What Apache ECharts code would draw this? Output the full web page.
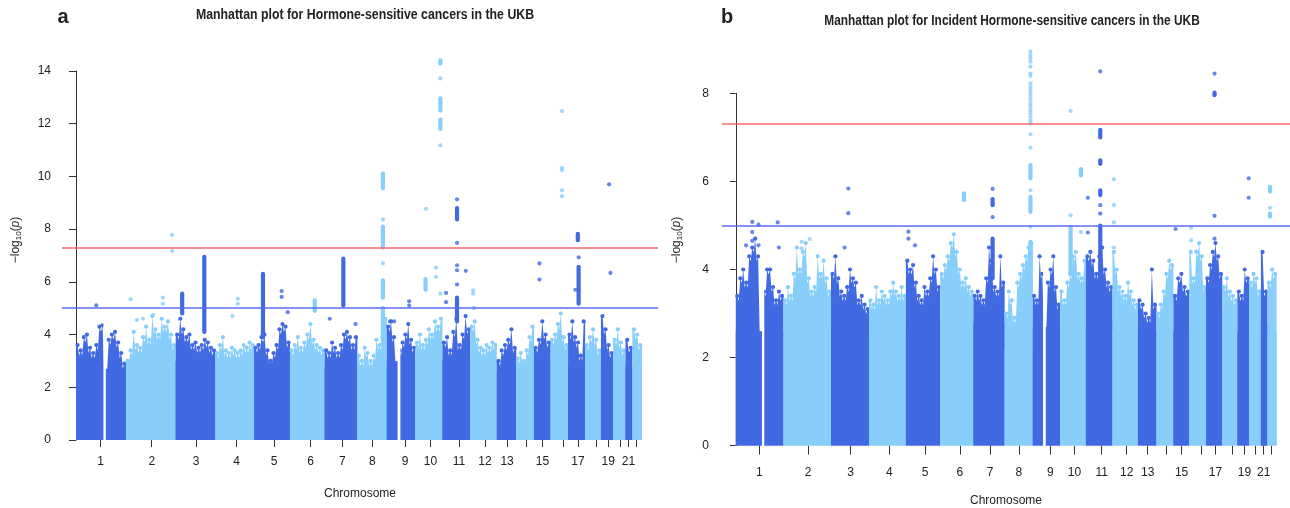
<!DOCTYPE html>
<html>
<head>
<meta charset="utf-8">
<script src="https://cdn.jsdelivr.net/npm/echarts@6/dist/echarts.min.js"></script>
<style>
  html, body { margin: 0; padding: 0; background: #ffffff; }
  #chart { width: 1290px; height: 508px; }
</style>
</head>
<body>
<div id="chart"></div>
<script>
// ---- chromosome layout (cumulative genomic position, Mb) ----
const chromosomes = ['1','2','3','4','5','6','7','8','9','10','11','12','13','14','15','16','17','18','19','20','21','22'];
const chrEnd  = [246, 491, 687, 877, 1054, 1225, 1386, 1531, 1672, 1805, 1942, 2073, 2169, 2256, 2338, 2424, 2508, 2586, 2646, 2707, 2741, 2788];
const chrTick = [121.5, 373, 591.5, 791, 976, 1155, 1311.5, 1459.5, 1621, 1746, 1886.5, 2015, 2123.5, 2217.5, 2298, 2399.5, 2472.5, 2560.5, 2622, 2680, 2721.5, 2758];
const labelledChr = ['1','2','3','4','5','6','7','8','9','10','11','12','13','15','17','19','21'];
// centromeric stretches without genotyped SNPs
const gaps = [[135, 147], [1584, 1598]];

const GENOME_WIDE = 7.3;
const SUGGESTIVE = 5;

// ---- panel a: Hormone-sensitive cancers ----
// level below which SNPs form a solid band, per chromosome
const bandA = [2.7, 3.0, 3.0, 3.0, 2.9, 3.0, 2.7, 2.8, 3.0, 3.0, 3.0, 3.0, 2.6, 2.9, 3.0, 3.0, 2.9, 3.0, 2.9, 3.0, 2.8, 2.7];
// highest SNP in successive windows along each chromosome
const envelopeA = [
  [3.6, 3.4, 3.9, 4.0, 3.5, 3.3, 3.6, 4.3, 4.35, 2.5, 3.8, 4.0, 4.1, 3.7, 3.3, 2.9],
  [3.0, 3.4, 4.1, 3.6, 3.5, 3.9, 4.3, 3.8, 4.7, 4.2, 4.0, 4.6, 4.3, 4.5, 4.0, 3.6],
  [4.0, 4.6, 4.2, 3.9, 4.0, 3.6, 3.7, 3.5, 3.6, 3.8, 3.7, 3.5, 3.4],
  [3.3, 3.6, 3.9, 3.4, 3.3, 3.5, 3.4, 3.3, 3.4, 3.6, 3.5, 3.7, 3.6],
  [3.5, 3.6, 3.9, 4.0, 3.4, 3.0, 3.3, 3.6, 4.2, 4.4, 4.3, 3.7],
  [3.4, 3.6, 3.9, 3.5, 3.7, 4.0, 4.4, 3.8, 3.6, 3.5, 3.4],
  [3.4, 3.3, 3.7, 3.5, 3.3, 3.6, 4.0, 4.1, 3.9, 3.6, 3.9],
  [3.2, 3.0, 3.5, 3.3, 3.0, 3.2, 3.8, 3.6, 3.9, 4.6],
  [4.3, 4.5, 3.9, 2.0, 3.4, 3.7, 4.0, 4.4, 3.8, 3.5],
  [3.7, 4.0, 3.6, 3.8, 4.2, 4.0, 4.5, 4.3, 4.6],
  [3.7, 3.9, 3.4, 4.1, 4.6, 3.6, 4.0, 4.7, 4.2],
  [4.3, 4.5, 3.8, 3.5, 3.4, 3.6, 3.5, 3.7, 3.6],
  [3.0, 3.4, 3.6, 3.8, 4.2, 3.5],
  [3.1, 3.3, 3.0, 3.4, 3.9, 4.3],
  [3.5, 3.8, 4.5, 4.0, 3.7],
  [3.8, 4.0, 4.4, 4.8, 3.9, 3.6],
  [4.0, 4.5, 3.9, 3.7, 3.2, 4.5],
  [3.6, 3.9, 4.2, 3.8, 3.4],
  [4.7, 4.2, 3.6, 3.3],
  [3.8, 4.2, 3.7, 3.4],
  [3.8, 3.5],
  [4.2, 4.0, 3.6]
];
// runs of adjacent SNPs in one locus: [position, lowest, highest]
const locusRunsA = [
  [523, 4.8, 5.55], [632, 4.1, 6.95], [921, 3.9, 6.3], [1176, 4.9, 5.3], [1317, 5.1, 6.88],
  [1512, 9.55, 10.11], [1512, 7.3, 8.1], [1512, 5.4, 6.06], [1512, 3.6, 5.0],
  [1722, 5.7, 6.1], [1795, 14.28, 14.4], [1795, 12.5, 12.96], [1795, 11.8, 12.16],
  [1877, 8.37, 8.8], [1877, 4.5, 5.4], [2472, 7.58, 7.82], [2476, 5.17, 6.57]
];
// single SNPs above the band: [position, -log10(p)]
const snpsA = [
  [100, 5.11], [269, 5.34], [300, 4.55], [330, 4.6], [380, 4.75], [428, 5.4], [428, 5.17],
  [473, 7.78], [474, 7.17], [771, 4.7], [797, 5.36], [797, 5.17], [1013, 5.65], [1013, 5.43],
  [1043, 4.85], [1250, 4.6], [1377, 4.4], [1512, 8.37], [1512, 6.7], [1547, 4.5], [1567, 4.5],
  [1641, 5.26], [1641, 5.1], [1724, 8.77], [1773, 6.54], [1773, 6.19], [1795, 13.72], [1795, 11.18],
  [1795, 5.55], [1823, 5.58], [1823, 5.23], [1877, 9.13], [1877, 7.48], [1877, 6.63], [1877, 6.44],
  [1877, 5.9], [1920, 6.42], [1956, 5.55], [1956, 5.68], [1960, 5.0], [2283, 6.7], [2283, 6.09],
  [2394, 12.48], [2394, 10.33], [2394, 10.24], [2394, 9.47], [2394, 9.25], [2460, 5.7],
  [2476, 6.93], [2626, 9.7], [2633, 6.34]
];

// ---- panel b: Incident hormone-sensitive cancers ----
const bandB = [2.6, 2.5, 2.7, 2.5, 2.8, 2.85, 2.8, 2.2, 2.7, 2.7, 2.85, 2.6, 2.55, 2.5, 2.6, 2.55, 3.0, 2.6, 2.55, 2.5, 2.8, 2.55];
const envelopeB = [
  [3.4, 3.8, 4.0, 3.7, 4.3, 4.5, 4.7, 4.3, 2.0, 3.5, 4.0, 4.0, 3.6, 3.3, 3.5, 3.4],
  [3.3, 3.6, 3.4, 3.9, 4.5, 4.0, 4.4, 4.6, 3.8, 3.5, 3.6, 4.3, 3.9, 4.2, 3.8, 3.5],
  [3.9, 4.3, 3.8, 3.5, 3.4, 3.6, 4.0, 3.8, 3.7, 3.3, 3.4, 3.2, 3.1],
  [3.3, 3.2, 3.6, 3.3, 3.5, 3.4, 3.3, 3.5, 3.7, 3.5, 3.4, 3.6, 3.4],
  [4.2, 4.0, 4.1, 3.7, 3.4, 3.3, 3.6, 3.5, 3.8, 4.3, 4.0, 3.6],
  [3.9, 4.1, 4.3, 4.6, 4.8, 4.4, 4.0, 3.7, 3.8, 3.6, 3.5],
  [3.4, 3.5, 3.4, 3.3, 3.8, 4.5, 4.2, 3.6, 3.5, 4.3, 3.7],
  [3.0, 3.5, 3.3, 2.9, 3.7, 3.9, 4.1, 4.3, 4.5, 4.6],
  [3.4, 3.3, 4.3, 3.9, 2.0, 3.7, 4.0, 4.3, 3.6, 3.2],
  [3.5, 3.3, 3.7, 3.9, 4.3, 4.4, 3.9, 3.8, 4.2],
  [4.3, 4.4, 4.2, 3.9, 4.3, 4.5, 4.0, 3.7, 3.6],
  [4.4, 4.0, 3.6, 3.5, 3.4, 3.7, 3.5, 3.3, 3.2],
  [3.3, 3.2, 3.0, 2.9, 4.0, 3.2],
  [3.0, 3.2, 3.5, 3.9, 4.2, 4.1],
  [3.4, 3.8, 3.9, 3.6, 3.5],
  [4.4, 3.8, 4.4, 4.6, 4.3, 3.6],
  [3.8, 4.1, 4.4, 4.6, 4.3, 3.9],
  [3.6, 3.8, 3.5, 3.4, 3.3],
  [3.5, 3.4, 4.0, 3.8],
  [3.7, 3.9, 3.8, 3.5],
  [4.4, 3.5],
  [3.7, 4.0, 3.9]
];
const locusRunsB = [
  [1176, 5.58, 5.73], [1324, 5.46, 5.6], [1324, 3.8, 4.7],
  [1519, 6.07, 6.37], [1519, 5.31, 5.65], [1519, 3.5, 4.63],
  [1726, 3.9, 4.97], [1779, 6.14, 6.28], [1879, 7.0, 7.17], [1879, 6.4, 6.48],
  [1879, 5.69, 5.8], [1879, 3.8, 5.0], [2468, 7.96, 8.02], [2754, 5.77, 5.88], [2754, 5.2, 5.27]
];
const snpsB = [
  [53, 4.55], [85, 5.08], [85, 4.85], [85, 4.65], [117, 5.02], [117, 4.55], [216, 5.07], [222, 4.5],
  [339, 4.63], [339, 4.48], [381, 4.69], [561, 4.5], [580, 5.84], [580, 5.28], [890, 4.86], [890, 4.7],
  [924, 4.55], [1324, 5.83], [1324, 5.19],
  [1519, 8.95], [1519, 8.87], [1519, 8.8], [1519, 8.72], [1519, 8.61], [1519, 8.45], [1519, 8.4],
  [1519, 8.23], [1519, 8.15], [1519, 8.08], [1519, 8.0], [1519, 7.92], [1519, 7.85], [1519, 7.77],
  [1519, 7.7], [1519, 7.62], [1519, 7.55], [1519, 7.47], [1519, 7.39], [1519, 7.32],
  [1519, 7.07], [1519, 6.77], [1519, 5.8], [1519, 4.97],
  [1726, 7.6], [1726, 5.23], [1779, 4.85], [1815, 5.63], [1815, 4.84], [1879, 8.5], [1879, 5.46],
  [1879, 5.27], [1949, 6.05], [1949, 5.46], [1949, 5.07], [1949, 4.5], [2267, 4.92], [2347, 4.95],
  [2347, 4.66], [2468, 8.45], [2468, 5.22], [2468, 4.7], [2644, 6.07], [2644, 5.63], [2754, 5.4]
];

// ---- styling ----
const DARK = '#4169E1';
const LIGHT = '#87CEFA';
const RED = '#F26A6A';
const BLUE = '#5E6CF2';
const INK = '#222222';
const DOT = 4.2;
const NOTCH = 5;   // px drop between neighbouring windows
const FONT = '"Liberation Sans", Arial, sans-serif';

function chrIndexOf(u) {
  for (let i = 0; i < chrEnd.length; i++) if (u < chrEnd[i]) return i;
  return chrEnd.length - 1;
}
function colorOf(i) { return i % 2 === 0 ? DARK : LIGHT; }

// solid band of one chromosome with a jagged, dotted skyline of window maxima
function bodyRenderer(band, envelope) {
  return function (params, api) {
    const i = params.dataIndex;
    const start = i === 0 ? 0 : chrEnd[i - 1];
    const end = chrEnd[i];
    const fill = colorOf(i);
    const env = envelope[i];
    const n = env.length;
    const step = (end - start) / n;
    const y0 = api.coord([start, 0])[1];
    const yBand = api.coord([start, band[i]])[1];
    const xAt = u => api.coord([u, 0])[0];
    const yAt = v => api.coord([start, v])[1];
    const outline = [[xAt(start), y0]];
    const tops = [];
    for (let j = 0; j < n; j++) {
      const left = start + j * step;
      const edge = j === 0 ? env[0] : Math.min(env[j - 1], env[j]);
      outline.push([xAt(left), Math.min(yBand, yAt(edge) + (j === 0 ? 0 : NOTCH))]);
      const top = [xAt(left + step / 2), yAt(env[j])];
      outline.push(top);
      tops.push(top);
    }
    outline.push([xAt(end), yAt(env[n - 1])]);
    outline.push([xAt(end), y0]);
    const children = [
      { type: 'rect', shape: { x: xAt(start), y: yBand, width: xAt(end) - xAt(start), height: y0 - yBand }, style: { fill } },
      { type: 'polygon', shape: { points: outline }, style: { fill } }
    ];
    tops.forEach(p => children.push({ type: 'circle', shape: { cx: p[0], cy: p[1], r: DOT / 2 }, style: { fill } }));
    return { type: 'group', children };
  };
}

function gapRenderer(params, api) {
  const a = api.coord([api.value(0), 0]);
  const b = api.coord([api.value(1), 6]);
  return {
    type: 'rect',
    shape: { x: a[0], y: b[1], width: b[0] - a[0], height: a[1] - b[1] + 1 },
    style: { fill: '#ffffff' }
  };
}

function runRenderer(params, api) {
  const u = api.value(0);
  const lo = api.coord([u, api.value(1)]);
  const hi = api.coord([u, api.value(2)]);
  return {
    type: 'line',
    shape: { x1: lo[0], y1: lo[1], x2: hi[0], y2: hi[1] },
    style: { stroke: colorOf(chrIndexOf(u)), lineWidth: DOT, lineCap: 'round' }
  };
}

function panelSeries(idx, band, envelope, runs, snps) {
  const axes = { xAxisIndex: idx, yAxisIndex: idx };
  return [
    { type: 'custom', ...axes, clip: false, silent: true, z: 1,
      data: chromosomes.map((c, i) => i), renderItem: bodyRenderer(band, envelope) },
    { type: 'custom', ...axes, clip: false, silent: true, z: 2, data: gaps, renderItem: gapRenderer },
    { type: 'custom', ...axes, clip: false, silent: true, z: 3, data: runs, renderItem: runRenderer },
    { type: 'scatter', ...axes, clip: false, silent: true, z: 4, symbol: 'circle', symbolSize: DOT,
      data: snps.map(d => ({ value: d, itemStyle: { color: colorOf(chrIndexOf(d[0])) } })) },
    { type: 'line', ...axes, data: [], z: 5, silent: true,
      markLine: {
        silent: true, symbol: 'none', animation: false, label: { show: false },
        data: [
          { yAxis: GENOME_WIDE, lineStyle: { color: RED, width: 1.6, type: 'solid' } },
          { yAxis: SUGGESTIVE, lineStyle: { color: BLUE, width: 1.6, type: 'solid' } }
        ]
      } }
  ];
}

function chrAxis(idx, min, max, tickLen, labelMargin, nameGap) {
  return {
    type: 'value', gridIndex: idx, min, max,
    splitLine: { show: false },
    axisLine: { show: false },
    axisTick: { show: true, customValues: chrTick, length: tickLen, lineStyle: { color: '#333', width: 1 } },
    axisLabel: {
      customValues: labelledChr.map(c => chrTick[chromosomes.indexOf(c)]),
      formatter: v => chromosomes[chrTick.indexOf(v)],
      margin: labelMargin, color: INK, fontSize: 12, fontFamily: FONT
    },
    name: 'Chromosome', nameLocation: 'middle', nameGap,
    nameTextStyle: { color: INK, fontSize: 12, fontFamily: FONT }
  };
}

function pAxis(idx, max, labelMargin, tickLen) {
  return {
    type: 'value', gridIndex: idx, min: 0, max, interval: 2,
    splitLine: { show: false },
    axisLine: { show: true, lineStyle: { color: '#333', width: 1 } },
    axisTick: { show: true, length: tickLen, lineStyle: { color: '#333', width: 1 } },
    axisLabel: { margin: labelMargin, color: INK, fontSize: 12, fontFamily: FONT }
  };
}

const yTitleRich = {
  s: { fontSize: 8, fontFamily: FONT, fill: INK, verticalAlign: 'bottom', padding: [5, 0, 0, 0] },
  i: { fontSize: 12, fontFamily: FONT, fontStyle: 'italic', fill: INK }
};

// text drawn horizontally condensed, as in a narrow typeface
function textEl(x, y, text, font, squeeze) {
  return {
    type: 'text', x, y, scaleX: squeeze || 1, silent: true,
    style: { text, font, fill: INK, align: 'center', verticalAlign: 'middle' }
  };
}
function yTitle(x, y) {
  return {
    type: 'text', x, y, rotation: Math.PI / 2, silent: true,
    style: { text: '\u2212log{s|10}({i|p})', font: '12px ' + FONT, fill: INK, align: 'center', verticalAlign: 'middle', rich: yTitleRich }
  };
}

const chart = echarts.init(document.getElementById('chart'), null, { renderer: 'canvas' });
chart.setOption({
  animation: false,
  backgroundColor: '#ffffff',
  grid: [
    { left: 62, top: 71, width: 596, height: 369, containLabel: false, outerBoundsMode: 'none' },
    { left: 722, top: 93.4, width: 568, height: 352.2, containLabel: false, outerBoundsMode: 'none' }
  ],
  xAxis: [
    chrAxis(0, -69, 2867, 7, 16, 48),
    chrAxis(1, -71, 2857, 9, 21, 49)
  ],
  yAxis: [
    pAxis(0, 14, 11, 7),
    pAxis(1, 8, 13, 6)
  ],
  series: [
    ...panelSeries(0, bandA, envelopeA, locusRunsA, snpsA),
    ...panelSeries(1, bandB, envelopeB, locusRunsB, snpsB)
  ],
  graphic: [
    textEl(63, 17, 'a', 'bold 20px ' + FONT),
    textEl(365, 15, 'Manhattan plot for Hormone-sensitive cancers in the UKB', 'bold 14px ' + FONT, 0.88),
    textEl(727, 17, 'b', 'bold 20px ' + FONT),
    textEl(1012, 21, 'Manhattan plot for Incident Hormone-sensitive cancers in the UKB', 'bold 14px ' + FONT, 0.85),
    yTitle(16, 240),
    yTitle(677, 240)
  ]
});
</script>
</body>
</html>
